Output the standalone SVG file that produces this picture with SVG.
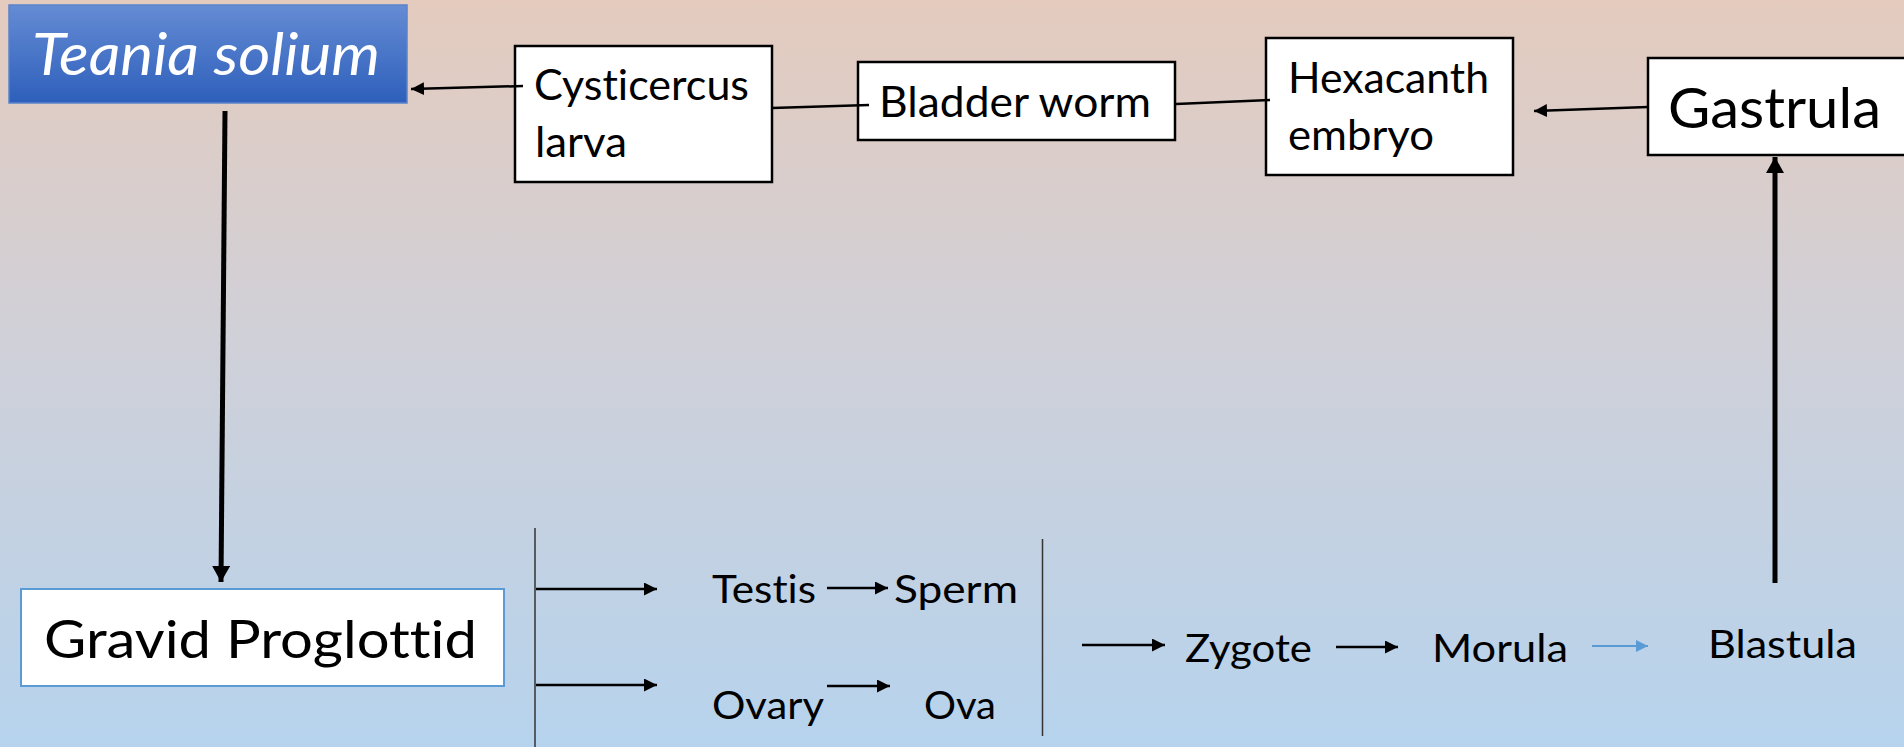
<svg xmlns="http://www.w3.org/2000/svg" width="1904" height="747" viewBox="0 0 1904 747">
<defs>
<linearGradient id="bg" x1="0" y1="0" x2="0" y2="1">
<stop offset="0" stop-color="#e4cbbe"/>
<stop offset="0.45" stop-color="#d0d0d8"/>
<stop offset="1" stop-color="#b6d3ed"/>
</linearGradient>
<linearGradient id="blue" x1="0" y1="0" x2="0" y2="1">
<stop offset="0" stop-color="#658cd4"/>
<stop offset="1" stop-color="#2d5fbb"/>
</linearGradient>
<marker id="ah" markerUnits="userSpaceOnUse" markerWidth="15" markerHeight="13" refX="13" refY="6.5" orient="auto">
<path d="M0,0 L13,6.5 L0,13 z" fill="#000"/>
</marker>
<marker id="ahb" markerUnits="userSpaceOnUse" markerWidth="18" markerHeight="18" refX="16" refY="9" orient="auto">
<path d="M0,0 L16,9 L0,18 z" fill="#000"/>
</marker>
<marker id="ahl" markerUnits="userSpaceOnUse" markerWidth="14" markerHeight="12" refX="12" refY="6" orient="auto">
<path d="M0,0 L12,6 L0,12 z" fill="#5b9bd5"/>
</marker>
</defs>
<style>
text{font-family:Lato,"Open Sans","Liberation Sans",sans-serif;fill:#000;font-variant-ligatures:none;}
.box{fill:#fff;stroke:#000;stroke-width:2.5;}
.lbl{font-size:42px;}
.sm{font-size:39px;}
.c{stroke:#000;stroke-width:2.5;fill:none;}
.cb{stroke:#000;stroke-width:5;fill:none;}
.thin{stroke:#333;stroke-width:1.5;fill:none;}
</style>
<rect x="0" y="0" width="1904" height="747" fill="url(#bg)"/>

<g id="teania-solium">
<rect x="9" y="5" width="398" height="98" fill="url(#blue)" stroke="#5a83cc" stroke-width="1.5"/>
<text x="32" y="75" font-size="58" font-style="italic" style="fill:#fff" textLength="348" lengthAdjust="spacingAndGlyphs">Teania solium</text>
</g>

<g id="cysticercus-larva">
<rect class="box" x="515" y="46" width="257" height="136"/>
<text class="lbl" x="534" y="100" textLength="215" lengthAdjust="spacingAndGlyphs">Cysticercus</text>
<text class="lbl" x="535" y="157" textLength="92" lengthAdjust="spacingAndGlyphs">larva</text>
</g>

<g id="bladder-worm">
<rect class="box" x="858" y="62" width="317" height="78"/>
<text class="lbl" x="879" y="117" textLength="272" lengthAdjust="spacingAndGlyphs">Bladder worm</text>
</g>

<g id="hexacanth-embryo">
<rect class="box" x="1266" y="38" width="247" height="137"/>
<text class="lbl" x="1288" y="93" textLength="201" lengthAdjust="spacingAndGlyphs">Hexacanth</text>
<text class="lbl" x="1288" y="150" textLength="146" lengthAdjust="spacingAndGlyphs">embryo</text>
</g>

<g id="gastrula">
<rect class="box" x="1648" y="58" width="300" height="97"/>
<text x="1668" y="128" font-size="56" textLength="213" lengthAdjust="spacingAndGlyphs">Gastrula</text>
</g>

<g id="gravid-proglottid">
<rect x="21" y="589" width="483" height="97" fill="#fff" stroke="#5b9bd5" stroke-width="2"/>
<text x="44" y="658" font-size="53" textLength="433" lengthAdjust="spacingAndGlyphs">Gravid Proglottid</text>
</g>

<g id="testis"><text class="sm" x="712" y="603" textLength="104" lengthAdjust="spacingAndGlyphs">Testis</text></g>
<g id="sperm"><text class="sm" x="894" y="603" textLength="124" lengthAdjust="spacingAndGlyphs">Sperm</text></g>
<g id="ovary"><text class="sm" x="712" y="719" textLength="112" lengthAdjust="spacingAndGlyphs">Ovary</text></g>
<g id="ova"><text class="sm" x="924" y="719" textLength="72" lengthAdjust="spacingAndGlyphs">Ova</text></g>
<g id="zygote"><text class="sm" x="1185" y="662" font-size="40" textLength="127" lengthAdjust="spacingAndGlyphs">Zygote</text></g>
<g id="morula"><text class="sm" x="1432" y="662" font-size="40" textLength="136" lengthAdjust="spacingAndGlyphs">Morula</text></g>
<g id="blastula"><text class="sm" x="1708" y="658" font-size="40" textLength="149" lengthAdjust="spacingAndGlyphs">Blastula</text></g>

<g id="connectors">
<line class="c" x1="523" y1="86" x2="411" y2="89" marker-end="url(#ah)"/>
<line class="c" x1="772" y1="108" x2="869" y2="105"/>
<line class="c" x1="1176" y1="104" x2="1270" y2="100"/>
<line class="c" x1="1648" y1="107" x2="1534" y2="111" marker-end="url(#ah)"/>
<line class="cb" x1="225" y1="111" x2="221" y2="582" marker-end="url(#ahb)"/>
<line class="cb" x1="1775" y1="583" x2="1775" y2="157" marker-end="url(#ahb)"/>
<line class="thin" x1="535" y1="528" x2="535" y2="747"/>
<line class="c" x1="536" y1="589" x2="657" y2="589" marker-end="url(#ah)"/>
<line class="c" x1="536" y1="685" x2="657" y2="685" marker-end="url(#ah)"/>
<line class="c" x1="827" y1="588" x2="888" y2="588" marker-end="url(#ah)"/>
<line class="c" x1="827" y1="686" x2="890" y2="686" marker-end="url(#ah)"/>
<line class="thin" x1="1042.5" y1="539" x2="1042.5" y2="736"/>
<line class="c" x1="1082" y1="645" x2="1165" y2="645" marker-end="url(#ah)"/>
<line class="c" x1="1336" y1="647" x2="1398" y2="647" marker-end="url(#ah)"/>
<line x1="1592" y1="646" x2="1648" y2="646" stroke="#5b9bd5" stroke-width="2" marker-end="url(#ahl)"/>
</g>
</svg>
